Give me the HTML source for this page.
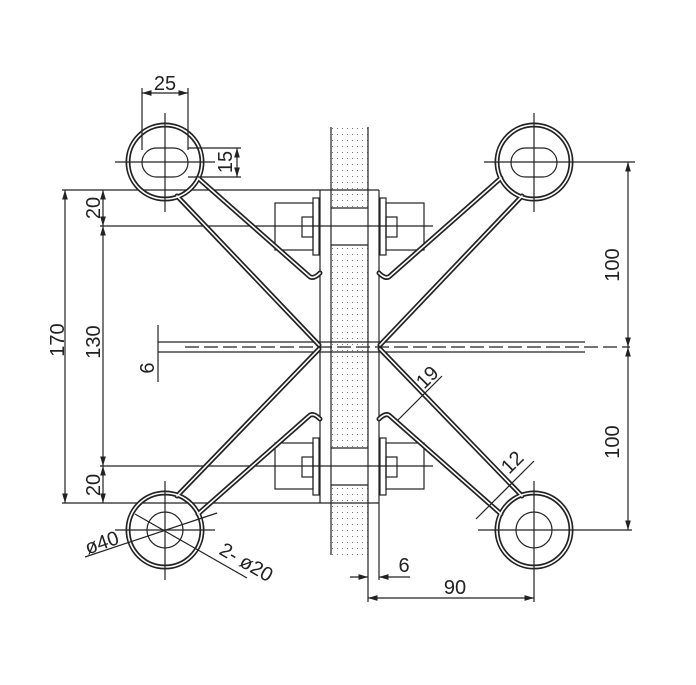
<!DOCTYPE html>
<html><head><meta charset="utf-8"><style>
html,body{margin:0;padding:0;background:#fff}
svg{display:block}
text{font-family:"Liberation Sans",sans-serif;font-size:20px;fill:#222}
</style></head><body>
<svg width="696" height="685" viewBox="0 0 696 685" xmlns="http://www.w3.org/2000/svg">
<defs>
<pattern id="dots" width="5" height="6" patternUnits="userSpaceOnUse">
<rect x="2" y="2" width="1" height="1" fill="#777"/>
</pattern>
<marker id="ar" viewBox="0 0 10 6" refX="10" refY="3" markerWidth="8" markerHeight="5" orient="auto-start-reverse">
<path d="M0,0 L10,3 L0,6 z" fill="#222"/>
</marker>
</defs>
<g stroke="#222" fill="none" stroke-width="1.2">
<rect x="331" y="127" width="37" height="428" fill="url(#dots)" stroke="none"/>
<rect x="331" y="208" width="37" height="37" fill="#fff" stroke="none"/>
<rect x="331" y="448" width="37" height="37" fill="#fff" stroke="none"/>
<line x1="331" y1="127" x2="331" y2="555"/>
<line x1="368" y1="127" x2="368" y2="602"/>
<line x1="331" y1="208" x2="368" y2="208"/><line x1="331" y1="245" x2="368" y2="245"/>
<line x1="331" y1="448" x2="368" y2="448"/><line x1="331" y1="485" x2="368" y2="485"/>
<line x1="320" y1="190" x2="320" y2="503"/>
<line x1="379" y1="190" x2="379" y2="580"/>
<line x1="62" y1="190" x2="379" y2="190"/>
<line x1="62" y1="503" x2="379" y2="503"/>
<line x1="100" y1="226" x2="433" y2="226"/>
<line x1="100" y1="466" x2="433" y2="466"/>
<rect x="275" y="203" width="38" height="47"/><rect x="302" y="217" width="11" height="20"/><rect x="313" y="198" width="6" height="57"/>
<rect x="386" y="203" width="38" height="47"/><rect x="386" y="217" width="11" height="20"/><rect x="380" y="198" width="6" height="57"/>
<rect x="275" y="443" width="38" height="46"/><rect x="302" y="457" width="11" height="20"/><rect x="313" y="438" width="6" height="57"/>
<rect x="386" y="443" width="38" height="46"/><rect x="386" y="457" width="11" height="20"/><rect x="380" y="438" width="6" height="57"/>
<line x1="158" y1="342" x2="585" y2="342"/>
<line x1="158" y1="352" x2="585" y2="352"/>
<line x1="185" y1="347" x2="630" y2="347" stroke-dasharray="14,5"/>
<line x1="158" y1="325" x2="158" y2="382"/>
</g>
<g fill="none" stroke-linecap="round">
<g stroke="#222" stroke-width="5">
<path d="M177,196 L319,345"/><path d="M198,178 L309,276 Q313,280 320,273"/>
<path d="M522,196 L380,345"/><path d="M501,178 L390,276 Q386,280 379,273"/>
<path d="M177,496 L319,349"/><path d="M198,514 L309,416 Q313,412 320,419"/>
<path d="M522,496 L380,349"/><path d="M501,514 L390,416 Q386,412 379,419"/>
<circle cx="165" cy="162" r="37"/><circle cx="534" cy="162" r="37"/>
<circle cx="165" cy="530" r="37"/><circle cx="534" cy="530" r="37"/>
</g>
<g stroke="#fff" stroke-width="1.6">
<path d="M177,196 L319,345"/><path d="M198,178 L309,276 Q313,280 320,273"/>
<path d="M522,196 L380,345"/><path d="M501,178 L390,276 Q386,280 379,273"/>
<path d="M177,496 L319,349"/><path d="M198,514 L309,416 Q313,412 320,419"/>
<path d="M522,496 L380,349"/><path d="M501,514 L390,416 Q386,412 379,419"/>
<circle cx="165" cy="162" r="37"/><circle cx="534" cy="162" r="37"/>
<circle cx="165" cy="530" r="37"/><circle cx="534" cy="530" r="37"/>
</g>
</g>
<g stroke="#222" fill="none" stroke-width="1.2">
<rect x="142" y="148" width="46" height="29" rx="14.5"/>
<rect x="511" y="148" width="46" height="29" rx="14.5"/>
<circle cx="165" cy="530" r="18"/><circle cx="534" cy="530" r="18"/>
<line x1="115" y1="162" x2="215" y2="162"/><line x1="165" y1="113" x2="165" y2="212"/>
<line x1="484" y1="162" x2="635" y2="162"/><line x1="534" y1="113" x2="534" y2="212"/>
<line x1="115" y1="530" x2="215" y2="530"/><line x1="165" y1="481" x2="165" y2="580"/>
<line x1="478" y1="530" x2="632" y2="530"/><line x1="534" y1="481" x2="534" y2="602"/>
<line x1="142" y1="88" x2="142" y2="150"/><line x1="188" y1="88" x2="188" y2="150"/>
<line x1="142" y1="93" x2="188" y2="93" marker-start="url(#ar)" marker-end="url(#ar)"/>
<line x1="188" y1="148" x2="241" y2="148"/><line x1="188" y1="177" x2="241" y2="177"/>
<line x1="237" y1="148" x2="237" y2="177" marker-start="url(#ar)" marker-end="url(#ar)"/>
<line x1="65" y1="190" x2="65" y2="503" marker-start="url(#ar)" marker-end="url(#ar)"/>
<line x1="103" y1="190" x2="103" y2="226" marker-start="url(#ar)" marker-end="url(#ar)"/>
<line x1="103" y1="226" x2="103" y2="466" marker-start="url(#ar)" marker-end="url(#ar)"/>
<line x1="103" y1="466" x2="103" y2="503" marker-start="url(#ar)" marker-end="url(#ar)"/>
<line x1="628" y1="162" x2="628" y2="347" marker-start="url(#ar)" marker-end="url(#ar)"/>
<line x1="628" y1="347" x2="628" y2="530" marker-start="url(#ar)" marker-end="url(#ar)"/>
<line x1="350" y1="577" x2="368" y2="577" marker-end="url(#ar)"/>
<line x1="410" y1="577" x2="379" y2="577" marker-end="url(#ar)"/>
<line x1="368" y1="598" x2="534" y2="598" marker-start="url(#ar)" marker-end="url(#ar)"/>
<line x1="398" y1="420" x2="442" y2="376"/>
<line x1="476" y1="519" x2="534" y2="461"/>
<line x1="85" y1="557" x2="217" y2="513"/>
<line x1="135" y1="514" x2="247" y2="578"/>
</g>
<g>
<text x="165" y="90" text-anchor="middle">25</text>
<text transform="translate(232,162) rotate(-90)" text-anchor="middle">15</text>
<text transform="translate(64,340) rotate(-90)" text-anchor="middle">170</text>
<text transform="translate(100,342) rotate(-90)" text-anchor="middle">130</text>
<text transform="translate(100,208) rotate(-90)" text-anchor="middle">20</text>
<text transform="translate(100,485) rotate(-90)" text-anchor="middle">20</text>
<text transform="translate(154,368) rotate(-90)" text-anchor="middle">6</text>
<text transform="translate(619,265) rotate(-90)" text-anchor="middle">100</text>
<text transform="translate(619,442) rotate(-90)" text-anchor="middle">100</text>
<text transform="translate(432,382) rotate(-45)" text-anchor="middle">19</text>
<text transform="translate(517,467) rotate(-45)" text-anchor="middle">12</text>
<text x="404" y="572" text-anchor="middle">6</text>
<text x="455" y="594" text-anchor="middle">90</text>
<text transform="translate(104,549) rotate(-19)" text-anchor="middle">ø40</text>
<text transform="translate(243,568) rotate(30)" text-anchor="middle">2- ø20</text>
</g>
</svg>
</body></html>
